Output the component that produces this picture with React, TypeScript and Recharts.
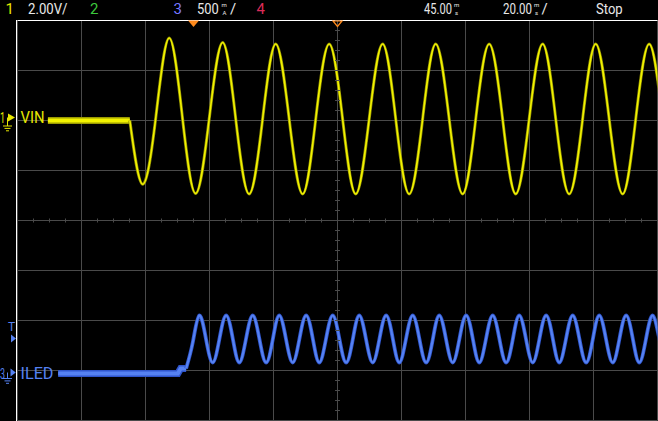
import { CartesianGrid, ComposedChart, Line, ReferenceDot, ReferenceLine, Scatter, XAxis, YAxis } from "recharts";

// time in ms (screen centre = 45 ms delay, 20 ms/div), ch1 in V, ch3 in mA
const TIME_TICKS = [-35, -15, 5, 25, 45, 65, 85, 105, 125, 145];
const VOLT_TICKS = [-12, -10, -8, -6, -4, -2, 0, 2, 4];

const yellowFlatT = [-45.5, -19.9];
const yellowFlatV = [0, 0];

const yellowT = [
  -19.9, -15.9, -11.8, -7.6, -3.4, 0.7, 4.9, 9.1, 13.2, 17.4, 21.6, 25.7, 29.9, 34.1,
  38.2, 42.4, 46.6, 50.7, 54.9, 59.1, 63.2, 67.4, 71.6, 75.7, 79.9, 84.1, 88.2, 92.4,
  96.6, 100.7, 104.9, 109.1, 113.2, 117.4, 121.6, 125.7, 129.9, 134.1, 138.2, 142.4, 146.6
];
const yellowV = [
  0, -2.55, 0.1, 3.3, 0.05, -2.92, 0.06, 3.12, 0.06, -2.94, 0.06, 3.06, 0.06, -2.94,
  0.06, 3.06, 0.06, -2.94, 0.06, 3.06, 0.06, -2.94, 0.06, 3.06, 0.06, -2.94, 0.06, 3.06,
  0.06, -2.94, 0.06, 3.06, 0.06, -2.94, 0.06, 3.06, 0.06, -2.94, 0.06, 3.06, 0.06
];

const blueFlatT = [-42.3, -4.9, -4.0, -2.3];
const blueFlatI = [0, 0, 50, 50];

const blueT = [
  -2.3, -0.2,
  1.8, 3.9, 6.0, 8.1, 10.2, 12.3, 14.3, 16.4, 18.5, 20.6, 22.7, 24.8,
  26.8, 28.9, 31.0, 33.1, 35.2, 37.3, 39.3, 41.4, 43.5, 45.6, 47.7, 49.8,
  51.8, 53.9, 56.0, 58.1, 60.2, 62.3, 64.3, 66.4, 68.5, 70.6, 72.7, 74.8,
  76.8, 78.9, 81.0, 83.1, 85.2, 87.3, 89.3, 91.4, 93.5, 95.6, 97.7, 99.8,
  101.8, 103.9, 106.0, 108.1, 110.2, 112.3, 114.3, 116.4, 118.5, 120.6, 122.7, 124.8,
  126.8, 128.9, 131.0, 133.1, 135.2, 137.3, 139.3, 141.4, 143.5, 145.6, 147.7
];
const blueI = [
  50, 315,
  580, 345, 110, 345, 580, 345, 110, 345, 580, 345, 110, 345,
  580, 345, 110, 345, 580, 345, 110, 345, 580, 345, 110, 345,
  580, 345, 110, 345, 580, 345, 110, 345, 580, 345, 110, 345,
  580, 345, 110, 345, 580, 345, 110, 345, 580, 345, 110, 345,
  580, 345, 110, 345, 580, 345, 110, 345, 580, 345, 110, 345,
  580, 345, 110, 345, 580, 345, 110, 345, 580, 345, 110
];

const yellowFlat = yellowFlatT.map((t, k) => ({ t, v: yellowFlatV[k] }));
const yellowData = yellowT.map((t, k) => ({ t, v: yellowV[k] }));
const blueFlat = blueFlatT.map((t, k) => ({ t, i: blueFlatI[k] }));
const blueData = blueT.map((t, k) => ({ t, i: blueI[k] }));

// minor ticks on the centre cross
const hMinor: { t: number; v: number }[] = [];
for (let t = -55; t <= 145; t += 5) hMinor.push({ t, v: -4 });
const vMinor: { t: number; v: number }[] = [];
for (let v = -12; v <= 4.01; v += 0.4) vMinor.push({ t: 45, v });

const FONT = "Roboto, 'Liberation Sans', sans-serif";
const GRID = "#4a4a4a";
const YEL = "#f2f200";
const BLUE = "#5682f2";
const WHITE = "#e8e8e8";

function ChannelTag(p: any) {
  const { cx, cy, num, name, color, b, a, g, ax, nameW } = p;
  return (
    <g>
      <text x={cx - 17.5} y={cy + b} fill={color} fontFamily={FONT} fontSize={15} textLength={5} lengthAdjust="spacingAndGlyphs">{num}</text>
      <line x1={cx - 10} x2={cx - 10} y1={cy + a} y2={cy + g} stroke={color} strokeWidth={1} />
      <polygon points={`${cx - 9.5 + ax},${cy + a - 4} ${cx - 2.5 + ax * 0.3},${cy + a} ${cx - 9.5 + ax},${cy + a + 4}`} fill={color} />
      <line x1={cx - 14.5} x2={cx - 5.5} y1={cy + g} y2={cy + g} stroke={color} />
      <line x1={cx - 13} x2={cx - 7} y1={cy + g + 2.4} y2={cy + g + 2.4} stroke={color} />
      <line x1={cx - 11.5} x2={cx - 8.5} y1={cy + g + 4.8} y2={cy + g + 4.8} stroke={color} />
      <text x={cx + 3} y={cy + b} fill={color} fontFamily={FONT} fontSize={16} textLength={nameW} lengthAdjust="spacingAndGlyphs">
        {name}
      </text>
    </g>
  );
}

// stacked small unit, e.g. m over s
function Unit({ x, top, bottom }: { x: number; top: string; bottom: string }) {
  return (
    <g fill={WHITE} fontFamily={FONT} fontSize={6}>
      <text x={x} y={7}>{top}</text>
      <text x={x + 1} y={15}>{bottom}</text>
    </g>
  );
}

// horizontally squeezed header text (scope font is narrow)
function Narrow({ x, sx, children }: { x: number; sx: number; children: string }) {
  return (
    <text transform={`translate(${x},14) scale(${sx},1)`} fill={WHITE} fontFamily={FONT} fontSize={15}>
      {children}
    </text>
  );
}

function Header() {
  const base = { fontFamily: FONT, fontSize: 15 };
  return (
    <svg width={658} height={20} style={{ position: "absolute", left: 0, top: 0 }}>
      <text x={5.5} y={14} fill="#e6e600" {...base}>1</text>
      <Narrow x={28} sx={0.88}>2.00V/</Narrow>
      <text x={90} y={14} fill="#3cc83c" {...base}>2</text>
      <text x={173.5} y={14} fill="#7878ff" {...base}>3</text>
      <Narrow x={197} sx={0.86}>500</Narrow>
      <Unit x={221.5} top="m" bottom="A" />
      <text x={230} y={14} fill={WHITE} {...base}>/</text>
      <text x={256.5} y={14} fill="#dc2c58" {...base}>4</text>
      <Narrow x={424} sx={0.74}>45.00</Narrow>
      <Unit x={454} top="m" bottom="s" />
      <Narrow x={503} sx={0.77}>20.00</Narrow>
      <Unit x={534} top="m" bottom="s" />
      <text x={541.5} y={14} fill={WHITE} {...base}>/</text>
      <Narrow x={596} sx={0.87}>Stop</Narrow>
    </svg>
  );
}

export default function App() {
  return (
    <div style={{ position: "absolute", left: 0, top: 0, width: 658, height: 421, background: "#000", overflow: "hidden" }}>
      <ComposedChart width={658} height={421} margin={{ top: 20.5, right: 0.5, bottom: 0.5, left: 17.5 }}>
        <XAxis dataKey="t" type="number" domain={[-55, 145]} ticks={TIME_TICKS} allowDataOverflow hide />
        <YAxis yAxisId="v" dataKey="v" type="number" domain={[-12, 4]} ticks={VOLT_TICKS} allowDataOverflow hide />
        <YAxis yAxisId="i" dataKey="i" type="number" domain={[-470, 3530]} allowDataOverflow hide />
        <CartesianGrid yAxisId="v" stroke={GRID} strokeWidth={1} />
        <ReferenceLine yAxisId="v" y={4} stroke="#ffffff" strokeWidth={1} />
        <Scatter
          yAxisId="v"
          data={hMinor}
          isAnimationActive={false}
          shape={(p: any) => <line x1={p.cx} x2={p.cx} y1={p.cy - 2} y2={p.cy + 2} stroke={GRID} />}
        />
        <Scatter
          yAxisId="v"
          data={vMinor}
          isAnimationActive={false}
          shape={(p: any) => <line x1={p.cx - 2.5} x2={p.cx + 2.5} y1={p.cy} y2={p.cy} stroke={GRID} />}
        />

        <Line yAxisId="v" data={yellowFlat} dataKey="v" type="linear" stroke="#9a9a00" strokeWidth={7} dot={false} activeDot={false} isAnimationActive={false} />
        <Line yAxisId="v" data={yellowFlat} dataKey="v" type="linear" stroke={YEL} strokeWidth={4} dot={false} activeDot={false} isAnimationActive={false} />
        <Line yAxisId="v" data={yellowData} dataKey="v" type="natural" stroke="#8c8c00" strokeWidth={3} dot={false} activeDot={false} isAnimationActive={false} />
        <Line yAxisId="v" data={yellowData} dataKey="v" type="natural" stroke={YEL} strokeWidth={1.6} dot={false} activeDot={false} isAnimationActive={false} />

        <Line yAxisId="i" data={blueFlat} dataKey="i" type="linear" stroke="#2f55cc" strokeWidth={7} dot={false} activeDot={false} isAnimationActive={false} />
        <Line yAxisId="i" data={blueFlat} dataKey="i" type="linear" stroke={BLUE} strokeWidth={4} dot={false} activeDot={false} isAnimationActive={false} />
        <Line yAxisId="i" data={blueData} dataKey="i" type="natural" stroke="#2f55cc" strokeWidth={3.8} dot={false} activeDot={false} isAnimationActive={false} />
        <Line yAxisId="i" data={blueData} dataKey="i" type="natural" stroke={BLUE} strokeWidth={2.2} dot={false} activeDot={false} isAnimationActive={false} />

        <ReferenceDot
          yAxisId="v"
          x={-55}
          y={0}
          ifOverflow="visible"
          shape={(p: any) => <ChannelTag {...p} num="1" name="VIN" color="#e6e600" b={2.5} a={-3} g={5.5} ax={0} nameW={24} />}
        />
        <ReferenceDot
          yAxisId="i"
          x={-55}
          y={0}
          ifOverflow="visible"
          shape={(p: any) => <ChannelTag {...p} num="3" name="ILED" color={BLUE} b={5} a={-1} g={5} ax={2.5} nameW={33} />}
        />
        <ReferenceDot
          yAxisId="i"
          x={-55}
          y={350}
          ifOverflow="visible"
          shape={(p: any) => (
            <g>
              <text x={p.cx - 9.5} y={p.cy - 8} fill={BLUE} fontFamily={FONT} fontSize={12}>T</text>
              <polygon points={`${p.cx - 6.5},${p.cy - 4} ${p.cx - 1.5},${p.cy} ${p.cx - 6.5},${p.cy + 4}`} fill={BLUE} />
            </g>
          )}
        />
        <ReferenceDot
          yAxisId="v"
          x={0}
          y={4}
          ifOverflow="visible"
          shape={(p: any) => <polygon points={`${p.cx - 5.5},${p.cy} ${p.cx + 5.5},${p.cy} ${p.cx},${p.cy + 6.5}`} fill="#ff8a1c" />}
        />
        <ReferenceDot
          yAxisId="v"
          x={45}
          y={4}
          ifOverflow="visible"
          shape={(p: any) => (
            <polygon points={`${p.cx - 4.5},${p.cy + 0.5} ${p.cx + 4.5},${p.cy + 0.5} ${p.cx},${p.cy + 6}`} fill="none" stroke="#ff8a1c" strokeWidth={1.2} />
          )}
        />
      </ComposedChart>
      <div style={{ position: "absolute", left: 16, top: 20, width: 1, height: 401, background: "#ffffff" }} />
      <Header />
    </div>
  );
}
